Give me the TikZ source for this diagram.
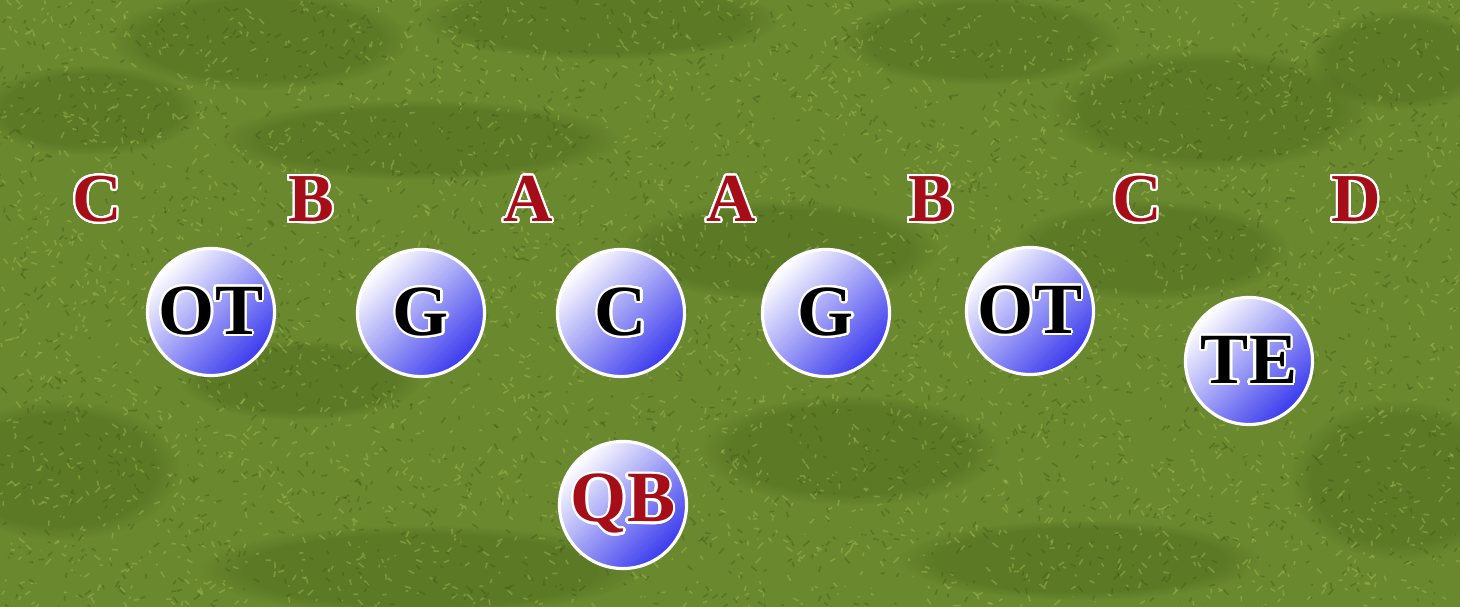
\documentclass[tikz,border=0pt]{standalone}
\usepackage{fontspec}
\setmainfont{Liberation Serif}
\usepackage[copies]{contour}
\usetikzlibrary{fadings}
\definecolor{grass}{RGB}{106,136,46}
\definecolor{grassdark}{RGB}{62,88,22}
\definecolor{grasslight}{RGB}{156,182,78}
\definecolor{gapred}{RGB}{165,14,24}
\definecolor{shirtblue}{RGB}{58,58,238}
\contourlength{0.6pt}
\contournumber{32}

\begin{document}
\begin{tikzpicture}[x=0.01cm, y=-0.01cm,
    player/.style={circle, draw=white, line width=0.9pt, minimum size=1.27cm, inner sep=0pt,
        left color=white, middle color=shirtblue!25!white, right color=shirtblue, shading angle=45,
        font=\fontsize{20.5pt}{21pt}\selectfont\bfseries},
    gap/.style={text=gapred, inner sep=0pt, font=\fontsize{19.5pt}{20pt}\selectfont\bfseries},
    patch/.style={grassdark, opacity=0.3, path fading=circle with fuzzy edge 20 percent}]
    % field
    \useasboundingbox (0,0) rectangle (1460,607);
    \fill[grass] (0,0) rectangle (1460,607);
    \foreach \x/\y/\rx/\ry in {260/40/150/50, 600/20/180/40, 980/40/140/45, 1210/110/160/60,
        1400/60/90/50, 90/110/110/45, 420/140/200/40, 780/250/160/50, 1150/250/140/50,
        60/470/120/70, 420/570/220/45, 850/450/150/55, 1400/480/110/80, 1080/560/180/40, 300/380/120/40}
    {
        \fill[patch] (\x,\y) ellipse ({\rx} and {\ry});
    }
    \pgfmathsetseed{42}
    \foreach \k in {1,...,3500}
    {
        \draw[grasslight, opacity=0.5, line width=0.45pt] ({1460*rnd},{607*rnd}) -- ++({6*rand},{6*rand});
    }
    \foreach \k in {1,...,2500}
    {
        \draw[grassdark, opacity=0.4, line width=0.45pt] ({1460*rnd},{607*rnd}) -- ++({6*rand},{6*rand});
    }
    % gaps
    \foreach \g/\x [count=\i from 1] in {C/97, B/311, A/528, A/731, B/931, C/1137, D/1356}
    {
        \node[gap] (gap\i) at (\x,200) {\contour{white}{\g}};
    }
    % line
    \foreach \name/\x/\y/\lbl in {lot/211/312/OT, lg/421/313/G, ctr/621/313/C, rg/826/313/G,
        rot/1030/311/OT, te/1249/361/TE}
    {
        \node[player] (\name) at (\x,\y) {\contour{white}{\lbl}};
    }
    \node[player, text=gapred] (qb) at (623,505) {\contour{white}{QB}};
\end{tikzpicture}
\end{document}
